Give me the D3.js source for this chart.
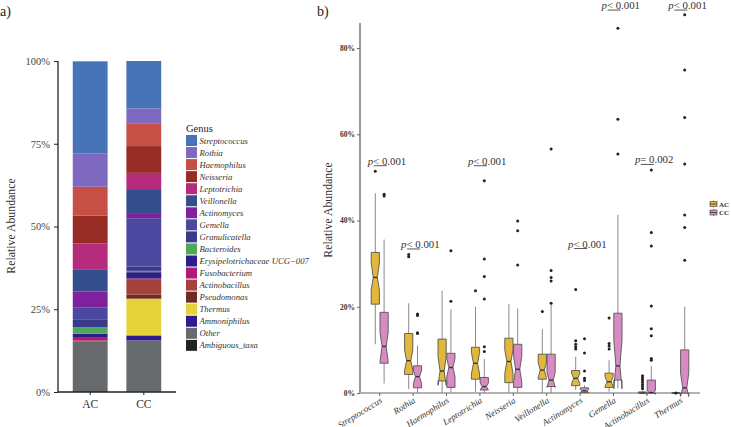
<!DOCTYPE html>
<html><head><meta charset="utf-8">
<script src="https://cdn.jsdelivr.net/npm/d3@7"></script>
<style>body{margin:0;background:#fff}svg{display:block;font-family:"Liberation Serif","Times New Roman",serif}</style>
</head><body><svg id="c" width="731" height="427"></svg>
<script>
// ---------- Panel a data ----------
const groups = ["AC", "CC"];
const taxa = ["Streptococcus","Rothia","Haemophilus","Neisseria","Leptotrichia","Veillonella","Actinomyces","Gemella","Granulicatella","Bacteroides","Erysipelotrichaceae UCG\u2212007","Fusobacterium","Actinobacillus","Pseudomonas","Thermus","Ammoniphilus","Other","Ambiguous_taxa"];
const taxaColors = ["#4773B9","#7D69C0","#C65046","#962C24","#B52C7D","#344D8D","#7F209C","#4B489F","#3A3A8A","#4FA75B","#2E1C8A","#B1187A","#A4423B","#6E2B26","#E6D33B","#2F1A8E","#676A6D","#222222"];
const abundAC = [27.9,10.0,8.7,8.4,8.0,6.5,4.8,3.8,2.2,2.0,1.0,1.0,0.4,0.0,0.0,0.0,15.0,0.2];
const abundCC = [14.3,4.5,6.9,8.1,4.9,7.5,1.3,14.6,1.3,0.4,1.9,0.2,4.7,1.2,11.1,1.5,15.5,0.1];
const pctTicks = [0,0.25,0.5,0.75,1];

// ---------- Panel b data ----------
const genera = ["Streptococcus","Rothia","Haemophilus","Leptotrichia","Neisseria","Veillonella","Actinomyces","Gemella","Actinobacillus","Thermus"];
const acWhiskLo = [11.3,0.85,0,0.3,0,0,0.7,0.3,0,0];
const acQ1      = [20.6,4.3,2.8,3.2,2.4,3.2,1.7,1.3,0,0];
const acMed     = [26.8,7.5,5.1,6.9,7.3,5.3,3.4,2.6,0,0];
const acQ3      = [32.6,13.8,12.5,10.6,12.7,9.0,5.2,4.6,0.25,0];
const acWhiskHi = [46.3,20.8,23.7,20.0,20.6,14.8,8.4,7.7,0.4,0];
const acNotchLo = [23.9,5.3,1.8,4.4,4.5,3.6,2.2,1.5,0,0];
const acNotchHi = [30.1,10.0,8.4,9.4,10.0,7.0,4.6,3.8,0.1,0];
const acOut = [[51.4],[32.1,31.6],[],[23.7],[],[18.9],[24.0,12.1,11.3,10.7,10.2],[17.4,11.5,10.9,10.2],[4.0,3.5,3.0,2.5,2.0,1.5,1.0],[0]];
const ccWhiskLo = [2.2,0,0,0,0,0,0,1.1,0,0];
const ccQ1      = [6.9,1.2,1.3,0.7,1.3,1.5,0.1,3.0,0,0];
const ccMed     = [10.8,3.8,5.9,1.5,5.5,3.0,0.5,6.3,0.1,1.2];
const ccQ3      = [18.7,6.3,9.2,3.6,11.3,9.0,1.2,18.5,3.0,10.0];
const ccWhiskHi = [35.6,11.0,19.4,7.9,19.6,20.4,1.8,41.3,6.3,20.0];
const ccNotchLo = [7.3,2.2,3.8,0.7,2.5,1.3,0.2,1.0,-0.3,-0.8];
const ccNotchHi = [14.0,5.3,8.0,2.3,8.5,4.7,0.8,12.3,0.5,4.6];
const ccOut = [[46.1,45.7],[18.3,18.0,14.0,13.8],[33.0,21.3],[49.2,31.1,27.0,21.8,10.7,9.6],[39.9,37.6,29.7],[56.6,28.4,26.8,26.0,20.8],[12.6,9.3,5.1,3.4,2.9],[84.6,63.5,55.4],[51.7,37.2,34.1,20.2,14.9,13.3,8.0,7.6],[87.7,74.9,63.9,53.1,41.3,38.4,30.8]];
const boxTicks = [0,20,40,60,80];
const pGenus = ["Streptococcus","Rothia","Leptotrichia","Actinomyces","Gemella","Actinobacillus","Thermus"];
const pText  = ["< 0.001","< 0.001","< 0.001","< 0.001","< 0.001","= 0.002","< 0.001"];
const pLevel = [52.7,33.4,52.7,33.5,88.8,53.0,88.8];
const groupFill = {AC:"#E3B83A", CC:"#D88BC2"};

const svg = d3.select("#c");
const SERIF = "Liberation Serif";

// ================= Panel a =================
const ya = d3.scaleLinear().domain([0,1]).range([392,61]);
const xa = d3.scaleBand().domain(groups).range([54,180]).paddingInner(0.35).paddingOuter(0.35);

svg.append("text").attr("x",0).attr("y",16).attr("font-size",14).attr("fill","#222").text("a)");

const stackData = taxa.map((t,i)=>({taxon:t, AC:abundAC[i]/100, CC:abundCC[i]/100}));
groups.forEach(g=>{
  let cum = 0;
  for (let i = taxa.length-1; i>=0; i--) {
    const v = stackData[i][g];
    if (v>0) {
      svg.append("rect").attr("x",xa(g)).attr("width",xa.bandwidth())
        .attr("y",ya(cum+v)).attr("height",ya(cum)-ya(cum+v))
        .attr("fill",taxaColors[i]);
    }
    cum += v;
  }
});
const ga = svg.append("g").attr("transform","translate(58,0)")
  .call(d3.axisLeft(ya).tickValues(pctTicks).tickFormat(d3.format(".0%")).tickSize(4).tickPadding(4));
ga.select(".domain").attr("stroke","#222").attr("stroke-width",1.3).attr("d","M0,392V61");
ga.selectAll(".tick line").attr("stroke","#222");
ga.selectAll(".tick text").attr("font-size",10.5).attr("fill","#444").attr("font-family",SERIF);
const gax = svg.append("g").attr("transform","translate(0,392)")
  .call(d3.axisBottom(xa).tickSize(3).tickPadding(5));
gax.select(".domain").attr("stroke","#222").attr("stroke-width",1.3).attr("d","M58,0H176");
gax.selectAll(".tick line").attr("stroke","#222");
gax.selectAll(".tick text").attr("font-size",11.5).attr("fill","#333").attr("font-family",SERIF);
svg.append("text").attr("transform","translate(15,226) rotate(-90)").attr("text-anchor","middle")
  .attr("font-size",11.8).attr("fill","#333").text("Relative Abundance");

// legend a
svg.append("text").attr("x",186).attr("y",132).attr("font-size",10.5).attr("fill","#222").text("Genus");
taxa.forEach((t,i)=>{
  const y0 = 135 + i*12.05;
  svg.append("rect").attr("x",186).attr("y",y0).attr("width",11).attr("height",11).attr("fill",taxaColors[i]);
  svg.append("text").attr("x",199.5).attr("y",y0+8.5).attr("font-size",8.7).attr("font-style","italic")
    .attr("fill","#333").text(t);
});

// ================= Panel b =================
svg.append("text").attr("x",317).attr("y",16).attr("font-size",14).attr("fill","#222").text("b)");
const yb = d3.scaleLinear().domain([0,80]).range([393,48]);
const xb = d3.scaleBand().domain(genera).range([363,697]);
const xd = d3.scaleBand().domain(groups).range([-8.8,8.8]);

const gb = svg.append("g").attr("transform","translate(360,0)")
  .call(d3.axisLeft(yb).tickValues(boxTicks).tickFormat(d=>d+"%").tickSize(3).tickPadding(2));
gb.select(".domain").attr("stroke","#999").attr("stroke-width",2).attr("d","M0,393V23");
gb.selectAll(".tick line").attr("stroke","#666");
gb.selectAll(".tick text").attr("font-size",7.5).attr("font-weight","bold").attr("fill","#333").attr("font-family",SERIF);
svg.append("text").attr("transform","translate(332,210) rotate(-90)").attr("text-anchor","middle")
  .attr("font-size",11.8).attr("fill","#333").text("Relative Abundance");

const gbx = svg.append("g").attr("transform","translate(0,393)")
  .call(d3.axisBottom(xb).tickSize(3).tickPadding(2));
gbx.select(".domain").attr("stroke","#999").attr("stroke-width",1.5).attr("d","M360,0H700");
gbx.selectAll(".tick line").attr("stroke","#666");
gbx.selectAll(".tick text").attr("font-size",9).attr("font-style","italic").attr("fill","#333")
  .attr("font-family",SERIF).attr("text-anchor","end")
  .attr("y",0).attr("dy",0).attr("transform","translate(3,9) rotate(-32)");

const stats = {
  AC:{lo:acWhiskLo,q1:acQ1,med:acMed,q3:acQ3,hi:acWhiskHi,nlo:acNotchLo,nhi:acNotchHi,out:acOut},
  CC:{lo:ccWhiskLo,q1:ccQ1,med:ccMed,q3:ccQ3,hi:ccWhiskHi,nlo:ccNotchLo,nhi:ccNotchHi,out:ccOut}
};
const boxG = svg.append("g");
genera.forEach((gname,i)=>{
  const cx0 = xb(gname)+xb.bandwidth()/2;
  groups.forEach(g=>{
    const s = stats[g];
    const cx = cx0 + xd(g) + xd.bandwidth()/2;
    const w = xd.bandwidth()-0.6;
    const x0 = cx-w/2, x1 = cx+w/2, ind = w*0.25;
    boxG.append("line").attr("x1",cx).attr("x2",cx).attr("y1",yb(s.q3[i])).attr("y2",yb(s.hi[i]))
      .attr("stroke","#8a8a8a").attr("stroke-width",1);
    boxG.append("line").attr("x1",cx).attr("x2",cx).attr("y1",yb(s.q1[i])).attr("y2",yb(s.lo[i]))
      .attr("stroke","#8a8a8a").attr("stroke-width",1);
    const pts = [
      [x0,yb(s.q3[i])],[x0,yb(s.nhi[i])],[x0+ind,yb(s.med[i])],[x0,yb(s.nlo[i])],[x0,yb(s.q1[i])],
      [x1,yb(s.q1[i])],[x1,yb(s.nlo[i])],[x1-ind,yb(s.med[i])],[x1,yb(s.nhi[i])],[x1,yb(s.q3[i])]
    ];
    boxG.append("path").attr("d",d3.line()(pts)+"Z").attr("fill",groupFill[g])
      .attr("stroke","#555").attr("stroke-width",0.9);
    boxG.append("line").attr("x1",x0+ind).attr("x2",x1-ind).attr("y1",yb(s.med[i])).attr("y2",yb(s.med[i]))
      .attr("stroke","#333").attr("stroke-width",1.4);
    s.out[i].forEach(v=>{
      boxG.append("circle").attr("cx",cx).attr("cy",yb(v)).attr("r",1.5).attr("fill","#222");
    });
  });
});

// p-value annotations
pGenus.forEach((gname,k)=>{
  const cx = xb(gname)+xb.bandwidth()/2;
  const y = yb(pLevel[k]);
  svg.append("line").attr("x1",cx-6).attr("x2",cx+7).attr("y1",y).attr("y2",y)
    .attr("stroke","#444").attr("stroke-width",0.9);
  const t = svg.append("text").attr("x",cx-12).attr("y",y-1).attr("font-size",10.8).attr("fill","#333");
  t.append("tspan").attr("font-style","italic").text("p");
  t.append("tspan").text(pText[k]);
});

// legend b
groups.forEach((g,k)=>{
  const y0 = 204 + k*8.5;
  const lg = svg.append("g");
  lg.append("line").attr("x1",713.5).attr("x2",713.5).attr("y1",y0-3.5).attr("y2",y0+3.5).attr("stroke","#666").attr("stroke-width",0.8);
  lg.append("rect").attr("x",710).attr("y",y0-2.5).attr("width",7).attr("height",5).attr("fill",groupFill[g]).attr("stroke","#555").attr("stroke-width",0.7);
  lg.append("line").attr("x1",710).attr("x2",717).attr("y1",y0).attr("y2",y0).attr("stroke","#333").attr("stroke-width",0.8);
  lg.append("text").attr("x",719).attr("y",y0+2.5).attr("font-size",7).attr("font-weight","bold").attr("fill","#333").text(g);
});
</script></body></html>
